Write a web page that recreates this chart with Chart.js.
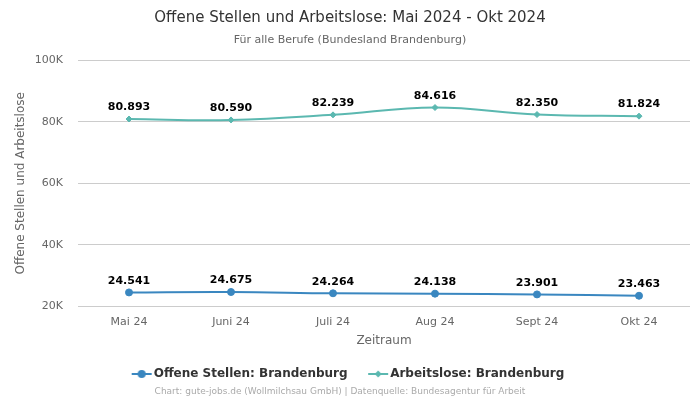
<!DOCTYPE html>
<html><head><meta charset="utf-8">
<script src="https://cdn.jsdelivr.net/npm/chart.js@4/dist/chart.umd.min.js"></script>
<style>html,body{margin:0;padding:0;background:#fff}#wrap{width:700px;height:400px;position:relative}</style>
</head><body><div id="wrap"><canvas id="c" width="700" height="400"></canvas></div>
<script>
const categories = ["Mai 24","Juni 24","Juli 24","Aug 24","Sept 24","Okt 24"];
const offeneStellen = [24541,24675,24264,24138,23901,23463];
const arbeitslose = [80893,80590,82239,84616,82350,81824];
const yTicks = [20000,40000,60000,80000,100000];
const FONT = "'DejaVu Sans', sans-serif";
const blue = "#3a87c0", teal = "#5bb8b0";

function legendIcon(color, style){
  const c = document.createElement('canvas'); c.width=22; c.height=10;
  const g = c.getContext('2d');
  g.strokeStyle=color; g.lineWidth=2; g.beginPath(); g.moveTo(1,5); g.lineTo(21,5); g.stroke();
  g.fillStyle=color; g.beginPath();
  if(style==='circle'){ g.arc(11,5,4,0,Math.PI*2);} else { g.moveTo(11,1.5);g.lineTo(14.5,5);g.lineTo(11,8.5);g.lineTo(7.5,5);g.closePath(); }
  g.fill(); return c;
}
const fmt = v => v.toLocaleString('de-DE');

const labelPlugin = {
  id:'vlabels',
  afterDatasetsDraw(chart){
    const ctx = chart.ctx; ctx.save();
    ctx.font = "bold 11px " + FONT; ctx.fillStyle="#000"; ctx.textAlign='center'; ctx.textBaseline='bottom';
    chart.data.datasets.forEach((ds,i)=>{
      chart.getDatasetMeta(i).data.forEach((pt,j)=>{ ctx.fillText(fmt(ds.data[j]), pt.x, pt.y-6); });
    });
    ctx.restore();
  }
};
const footerPlugin = {
  id:'footer',
  afterDraw(chart){
    const ctx=chart.ctx; ctx.save(); ctx.font="9px "+FONT; ctx.fillStyle="#aaa"; ctx.textAlign='center'; ctx.textBaseline='middle';
    ctx.fillText("Chart: gute-jobs.de (Wollmilchsau GmbH) | Datenquelle: Bundesagentur für Arbeit", 340, 392);
    ctx.restore();
  }
};

new Chart(document.getElementById('c'),{
  type:'line',
  data:{labels:categories,datasets:[
    {label:"Offene Stellen: Brandenburg",data:offeneStellen,borderColor:blue,backgroundColor:blue,pointStyle:'circle',
     pointRadius:3.5,pointBorderWidth:1,pointHoverRadius:3.5,borderWidth:2,tension:0.4},
    {label:"Arbeitslose: Brandenburg",data:arbeitslose,borderColor:teal,backgroundColor:teal,pointStyle:'rectRot',
     pointRadius:3,pointBorderWidth:1,borderWidth:2,tension:0.4}
  ]},
  options:{
    responsive:false,animation:false,
    layout:{padding:{left:10,right:10,top:0,bottom:10}},
    plugins:{
      title:{display:true,text:"Offene Stellen und Arbeitslose: Mai 2024 - Okt 2024",font:{family:FONT,size:15,weight:'normal'},color:'#333',padding:{top:9,bottom:4}},
      subtitle:{display:true,text:"Für alle Berufe (Bundesland Brandenburg)",font:{family:FONT,size:11},color:'#666',padding:{top:3,bottom:13}},
      legend:{position:'bottom',labels:{usePointStyle:true,font:{family:FONT,size:12,weight:'bold'},color:'#333',padding:12,
        generateLabels(chart){return chart.data.datasets.map((ds,i)=>({text:ds.label+(i===0?'   ':''),fillStyle:ds.borderColor,strokeStyle:ds.borderColor,fontColor:'#333',
          pointStyle:legendIcon(ds.borderColor,i===0?'circle':'diamond'),datasetIndex:i,hidden:false,lineWidth:0}));}}},
      tooltip:{enabled:false}
    },
    scales:{
      x:{offset:true,title:{display:true,text:"Zeitraum",font:{family:FONT,size:12},color:'#666',padding:{top:4,bottom:8}},
         grid:{display:false},border:{display:false},ticks:{font:{family:FONT,size:11},color:'#666',padding:1}},
      y:{min:20000,max:100000,afterBuildTicks(s){s.ticks=yTicks.map(v=>({value:v}));},
         afterFit(s){s.width=68;},
         title:{display:true,text:"Offene Stellen und Arbeitslose",font:{family:FONT,size:12},color:'#666',padding:{top:4,bottom:0}},
         grid:{color:'#ccc',drawTicks:false},border:{display:false},
         ticks:{font:{family:FONT,size:11},color:'#666',padding:15,callback:v=>(v/1000)+"K"}}
    }
  },
  plugins:[labelPlugin,footerPlugin]
});
</script></body></html>
